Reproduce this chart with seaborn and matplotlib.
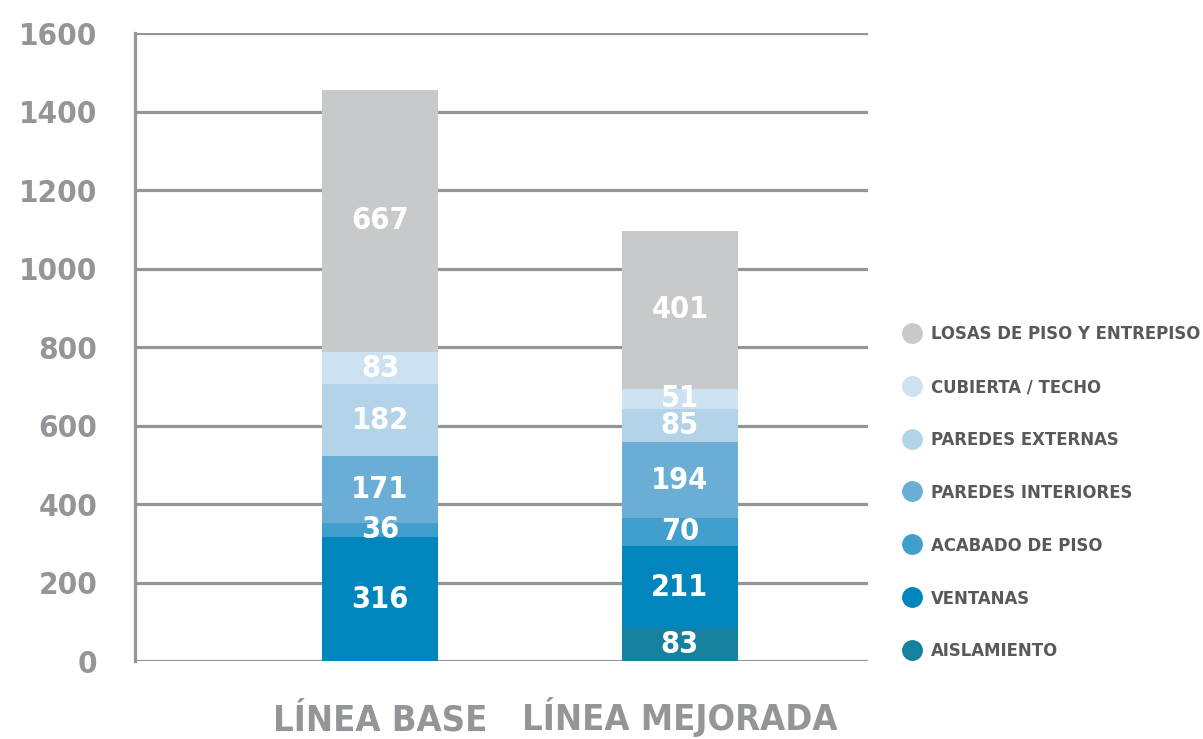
import matplotlib
matplotlib.use("Agg")
import matplotlib.pyplot as plt
import seaborn as sns
import pandas as pd
import numpy as np
from matplotlib.lines import Line2D

# Datos
categorias = ["LÍNEA BASE", "LÍNEA MEJORADA"]
componentes = ["AISLAMIENTO", "VENTANAS", "ACABADO DE PISO", "PAREDES INTERIORES",
               "PAREDES EXTERNAS", "CUBIERTA / TECHO", "LOSAS DE PISO Y ENTREPISO"]
aislamiento = [0, 83]
ventanas = [316, 211]
acabado_piso = [36, 70]
paredes_interiores = [171, 194]
paredes_externas = [182, 85]
cubierta = [83, 51]
losas = [667, 401]
colores = ["#16809f", "#0085bd", "#419fce", "#6aaed6", "#b3d4e8", "#cce2f0", "#c8c9cb"]
yticks = [0, 200, 400, 600, 800, 1000, 1200, 1400, 1600]

valores = [aislamiento, ventanas, acabado_piso, paredes_interiores,
           paredes_externas, cubierta, losas]

sns.set_style("white")
plt.rcParams['font.family'] = ['Liberation Sans Narrow', 'DejaVu Sans']
plt.rcParams['font.weight'] = 'bold'

gris = "#939598"

fig = plt.figure(figsize=(12.03, 7.39), dpi=100)
ax = fig.add_axes([0.1122, 0.1055, 0.6093, 0.8498])

base = np.zeros(len(categorias))
for comp, vals, col in zip(componentes, valores, colores):
    df = pd.DataFrame({"cat": categorias, "val": vals})
    sns.barplot(data=df, x="cat", y="val", color=col, width=0.387,
                bottom=base, ax=ax, saturation=1, linewidth=0)
    cont = ax.containers[-1]
    etiquetas = [str(v) if v > 0 else "" for v in vals]
    ax.bar_label(cont, labels=etiquetas, label_type="center", color="white",
                 fontsize=22, fontweight="bold", fontstretch="condensed")
    base = base + np.array(vals)

ax.set_ylim(0, 1600)
ax.set_xlim(-0.817, 1.627)
ax.set_yticks(yticks)
ax.set_yticklabels([str(t) for t in yticks])
ax.set_axisbelow(True)
ax.yaxis.grid(True, color=gris, linewidth=2.3)
ax.xaxis.grid(False)
for s in ["top", "right", "bottom"]:
    ax.spines[s].set_visible(False)
ax.spines["left"].set_color(gris)
ax.spines["left"].set_linewidth(2.3)
ax.tick_params(axis="both", length=0)
ax.tick_params(axis="y", labelsize=22.5, labelcolor=gris, pad=27)
ax.tick_params(axis="x", labelsize=26, labelcolor=gris, pad=50)
for lab in ax.get_xticklabels() + ax.get_yticklabels():
    lab.set_fontweight("bold")
    lab.set_fontstretch("condensed")
for lab in ax.get_xticklabels():
    lab.set_verticalalignment("baseline")
ax.set_xlabel("")
ax.set_ylabel("")

handles = [Line2D([0], [0], marker="o", linestyle="", markersize=14,
                  markerfacecolor=c, markeredgecolor=c)
           for c in colores[::-1]]
leg = fig.legend(handles, componentes[::-1], loc="center left",
                 bbox_to_anchor=(0.735, 0.333), frameon=False,
                 labelspacing=1.9, handletextpad=0.45, handlelength=1.2,
                 prop={"size": 13.2, "weight": "bold", "stretch": "condensed"})
for t in leg.get_texts():
    t.set_color("#58595b")

fig.savefig("out.png", dpi=100)
